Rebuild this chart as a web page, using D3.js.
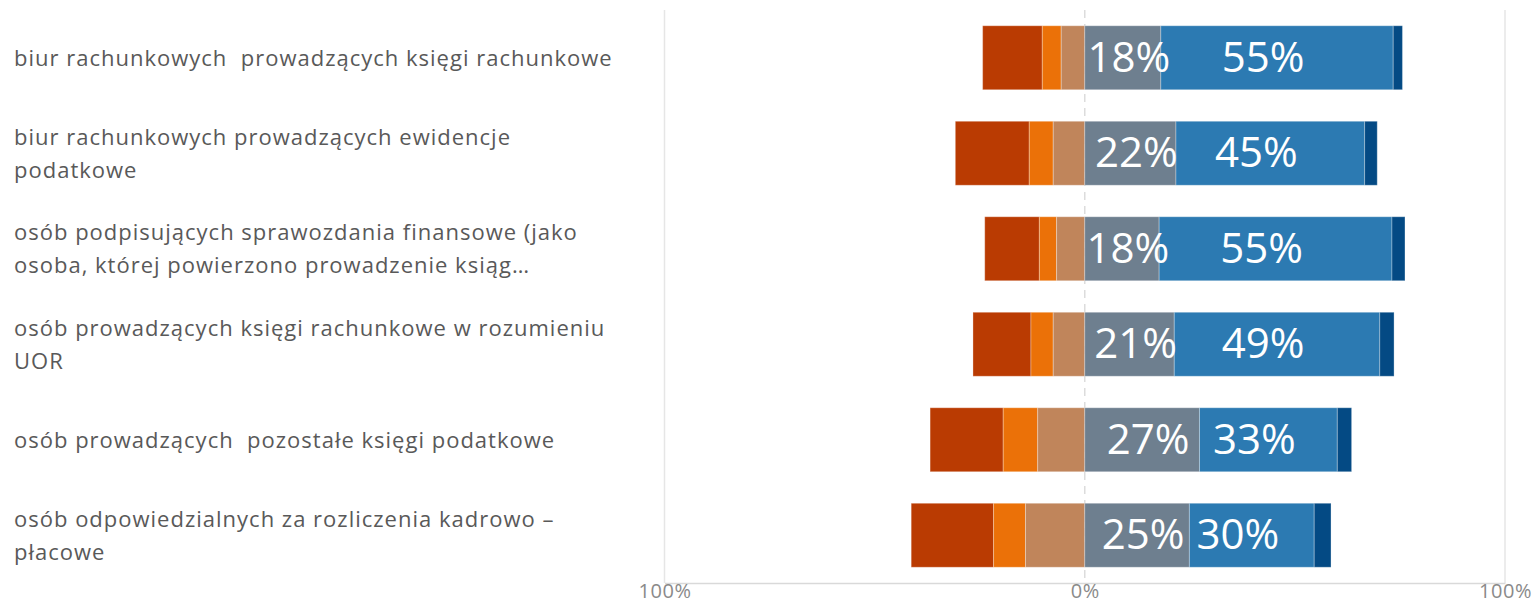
<!DOCTYPE html>
<html>
<head>
<meta charset="utf-8">
<script src="https://cdn.jsdelivr.net/npm/d3@7"></script>
<style>
    body { margin: 0; background: #fff; }
    text { white-space: pre; }
</style>
</head>
<body>
<div id="chart-area"></div>
<script>
// categories, as wrapped in the original
var categories = [
    "biur rachunkowych  prowadzących księgi rachunkowe",
    "biur rachunkowych prowadzących ewidencje podatkowe",
    "osób podpisujących sprawozdania finansowe (jako osoba, której powierzono prowadzenie ksiąg…",
    "osób prowadzących księgi rachunkowe w rozumieniu UOR",
    "osób prowadzących  pozostałe księgi podatkowe",
    "osób odpowiedzialnych za rozliczenia kadrowo – płacowe"
];
var categoryLines = [
    ["biur rachunkowych  prowadzących księgi rachunkowe"],
    ["biur rachunkowych prowadzących ewidencje", "podatkowe"],
    ["osób podpisujących sprawozdania finansowe (jako", "osoba, której powierzono prowadzenie ksiąg…"],
    ["osób prowadzących księgi rachunkowe w rozumieniu", "UOR"],
    ["osób prowadzących  pozostałe księgi podatkowe"],
    ["osób odpowiedzialnych za rozliczenia kadrowo –", "płacowe"]
];

// series (percent), left side first
var seriesKeys = ["s1", "s2", "s3", "s4", "s5", "s6"];
var s1 = [14.2, 17.6, 13.0, 13.8, 17.4, 19.6];
var s2 = [4.5, 5.7, 4.1, 5.3, 8.2, 7.6];
var s3 = [5.6, 7.5, 6.7, 7.5, 11.2, 14.1];
var s4 = [18.1, 21.7, 17.7, 21.3, 27.3, 24.9];
var s5 = [55.3, 44.9, 55.4, 48.9, 32.8, 29.7];
var s6 = [2.2, 3.0, 3.1, 3.4, 3.4, 4.0];
var negativeKeys = ["s1", "s2", "s3"];
var labelledKeys = ["s4", "s5"];

var tickValues = [-100, 0, 100];
var tickLabels = ["100%", "0%", "100%"];

var colors = {
    s1: "#BA3B02",
    s2: "#EB7108",
    s3: "#C0855B",
    s4: "#6E7F8F",
    s5: "#2C7AB2",
    s6: "#044A84"
};

var width = 1538;
var height = 604;
var plot = {left: 664.5, right: 1505, top: 10, bottom: 583};

var svg = d3.select("#chart-area")
    .append("svg")
        .attr("width", width)
        .attr("height", height)
        .style("display", "block");

var seriesValues = {s1: s1, s2: s2, s3: s3, s4: s4, s5: s5, s6: s6};

var rows = categories.map(function(c, i) {
    var row = {category: c, lines: categoryLines[i]};
    seriesKeys.forEach(function(k) { row[k] = seriesValues[k][i]; });
    return row;
});

var x = d3.scaleLinear().domain([-100, 100]).range([plot.left, plot.right]);
var y = d3.scaleBand()
    .domain(categories)
    .range([plot.top, plot.bottom])
    .paddingInner(0.33)
    .paddingOuter(0.165);

// gridlines
var grid = svg.append("g");
grid.selectAll("line.grid")
    .data([-100, 100])
    .enter().append("line")
        .attr("class", "grid")
        .attr("x1", function(d) { return x(d); })
        .attr("x2", function(d) { return x(d); })
        .attr("y1", plot.top)
        .attr("y2", plot.bottom)
        .attr("stroke", "#e6e6e6")
        .attr("stroke-width", 1.5);

grid.append("line")
    .attr("x1", x(0))
    .attr("x2", x(0))
    .attr("y1", plot.top)
    .attr("y2", plot.bottom)
    .attr("stroke", "#dcdcdc")
    .attr("stroke-width", 1.5)
    .attr("stroke-dasharray", "8,6");

// bottom axis
var xAxisCall = d3.axisBottom(x)
    .tickValues(tickValues)
    .tickSize(0)
    .tickPadding(0)
    .tickFormat(function(d, i) { return tickLabels[i]; });

var xAxisGroup = svg.append("g")
    .attr("transform", "translate(0, " + plot.bottom + ")")
    .call(xAxisCall);

xAxisGroup.select(".domain")
    .attr("stroke", "#d9d9d9")
    .attr("stroke-width", 1.5);

xAxisGroup.selectAll("text")
    .attr("y", 15)
    .attr("dy", 0)
    .attr("font-family", "'Open Sans', sans-serif")
    .attr("font-size", "20px")
    .attr("letter-spacing", "0.5px")
    .attr("fill", "#8a8a8a");

// stacked segments
var segments = [];
rows.forEach(function(r) {
    var start = -d3.sum(negativeKeys, function(k) { return r[k]; });
    seriesKeys.forEach(function(k) {
        segments.push({key: k, category: r.category, x0: start, x1: start + r[k], value: r[k]});
        start += r[k];
    });
});

svg.append("g").selectAll("rect")
    .data(segments)
    .enter().append("rect")
        .attr("x", function(d) { return x(d.x0); })
        .attr("y", function(d) { return y(d.category); })
        .attr("width", function(d) { return x(d.x1) - x(d.x0); })
        .attr("height", y.bandwidth())
        .attr("fill", function(d) { return colors[d.key]; })
        .attr("stroke", "#ffffff")
        .attr("stroke-opacity", 0.3)
        .attr("stroke-width", 1);

// value labels
var labelShift = {s4: 6, s5: -14};
svg.append("g").selectAll("text")
    .data(segments.filter(function(d) { return labelledKeys.indexOf(d.key) >= 0; }))
    .enter().append("text")
        .attr("x", function(d) { return (x(d.x0) + x(d.x1)) / 2 + labelShift[d.key]; })
        .attr("y", function(d) { return y(d.category) + y.bandwidth() / 2 + 14; })
        .attr("text-anchor", "middle")
        .attr("font-family", "'Open Sans', sans-serif")
        .attr("font-size", "42px")
        .attr("fill", "#ffffff")
        .text(function(d) { return Math.round(d.value) + "%"; });

// category labels
var catLabels = svg.append("g").selectAll("text")
    .data(rows)
    .enter().append("text")
        .attr("x", 14)
        .attr("y", function(d) { return y(d.category) + y.bandwidth() / 2 + 8 - (d.lines.length - 1) * 16.5; })
        .attr("font-family", "'Open Sans', sans-serif")
        .attr("font-size", "22px")
        .attr("letter-spacing", "1px")
        .attr("fill", "#595959");

catLabels.selectAll("tspan")
    .data(function(d) { return d.lines; })
    .enter().append("tspan")
        .attr("x", 14)
        .attr("dy", function(d, i) { return i === 0 ? 0 : 33; })
        .text(function(d) { return d; });
</script>
</body>
</html>
